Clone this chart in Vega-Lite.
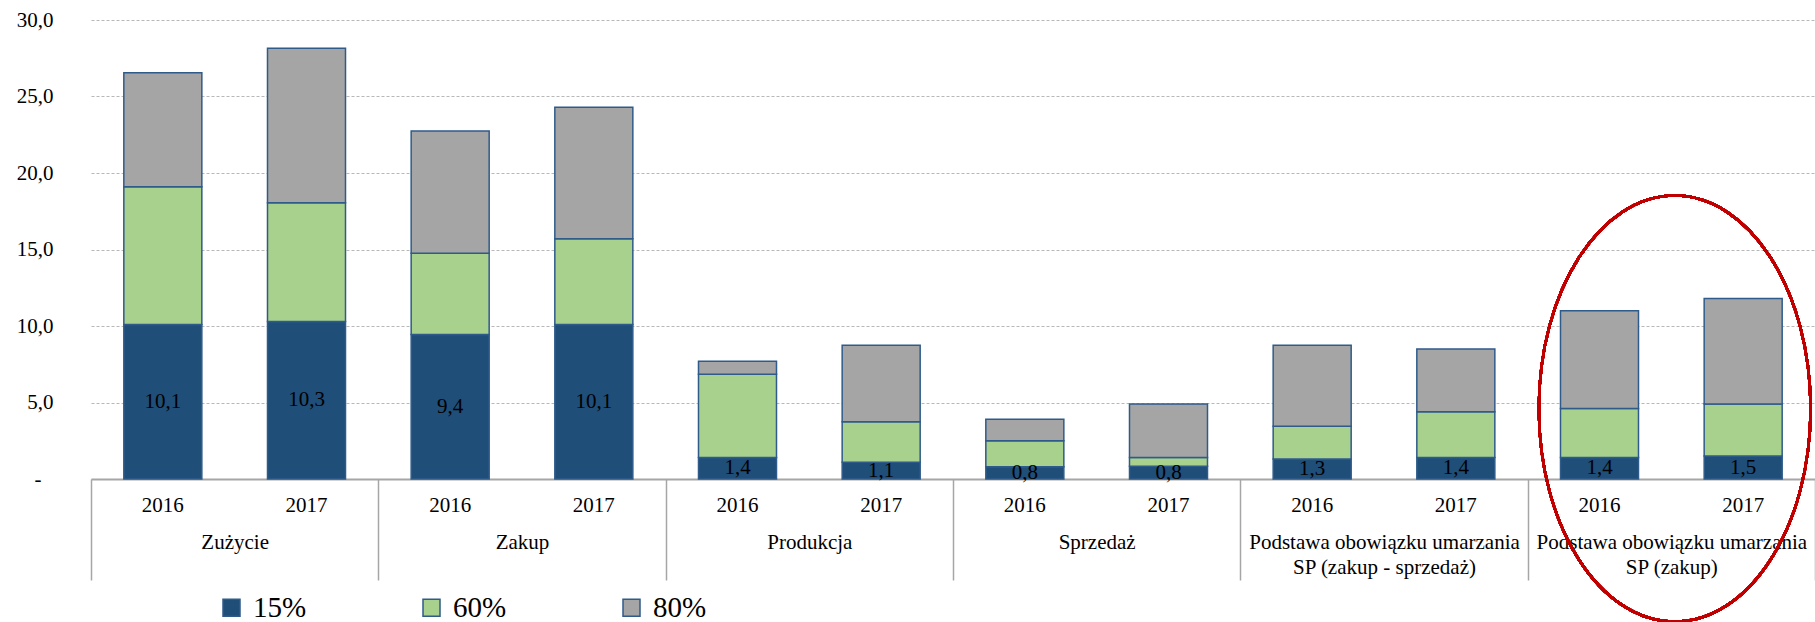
{
  "$schema": "https://vega.github.io/schema/vega-lite/v6.json",
  "autosize": {"type": "none"},
  "padding": {"left": 91, "top": 20, "right": 0, "bottom": 143},
  "width": 1724,
  "height": 459,
  "config": {
    "font": "Liberation Serif",
    "view": {"stroke": null},
    "legend": {"labelFont": "Liberation Serif"},
    "locale": {"number": {"decimal": ",", "thousands": "\u00a0", "grouping": [3], "currency": ["", " zł"]}}
  },
  "data": {"values": [
    {"kategoria": "Zużycie", "rok": "2016", "slupek": "Zużycie 2016", "stawka": "15%", "wartosc": 10.1},
    {"kategoria": "Zużycie", "rok": "2016", "slupek": "Zużycie 2016", "stawka": "60%", "wartosc": 9.0},
    {"kategoria": "Zużycie", "rok": "2016", "slupek": "Zużycie 2016", "stawka": "80%", "wartosc": 7.45},
    {"kategoria": "Zużycie", "rok": "2017", "slupek": "Zużycie 2017", "stawka": "15%", "wartosc": 10.3},
    {"kategoria": "Zużycie", "rok": "2017", "slupek": "Zużycie 2017", "stawka": "60%", "wartosc": 7.75},
    {"kategoria": "Zużycie", "rok": "2017", "slupek": "Zużycie 2017", "stawka": "80%", "wartosc": 10.1},
    {"kategoria": "Zakup", "rok": "2016", "slupek": "Zakup 2016", "stawka": "15%", "wartosc": 9.45},
    {"kategoria": "Zakup", "rok": "2016", "slupek": "Zakup 2016", "stawka": "60%", "wartosc": 5.3},
    {"kategoria": "Zakup", "rok": "2016", "slupek": "Zakup 2016", "stawka": "80%", "wartosc": 8.0},
    {"kategoria": "Zakup", "rok": "2017", "slupek": "Zakup 2017", "stawka": "15%", "wartosc": 10.1},
    {"kategoria": "Zakup", "rok": "2017", "slupek": "Zakup 2017", "stawka": "60%", "wartosc": 5.6},
    {"kategoria": "Zakup", "rok": "2017", "slupek": "Zakup 2017", "stawka": "80%", "wartosc": 8.6},
    {"kategoria": "Produkcja", "rok": "2016", "slupek": "Produkcja 2016", "stawka": "15%", "wartosc": 1.4},
    {"kategoria": "Produkcja", "rok": "2016", "slupek": "Produkcja 2016", "stawka": "60%", "wartosc": 5.45},
    {"kategoria": "Produkcja", "rok": "2016", "slupek": "Produkcja 2016", "stawka": "80%", "wartosc": 0.85},
    {"kategoria": "Produkcja", "rok": "2017", "slupek": "Produkcja 2017", "stawka": "15%", "wartosc": 1.1},
    {"kategoria": "Produkcja", "rok": "2017", "slupek": "Produkcja 2017", "stawka": "60%", "wartosc": 2.65},
    {"kategoria": "Produkcja", "rok": "2017", "slupek": "Produkcja 2017", "stawka": "80%", "wartosc": 5.0},
    {"kategoria": "Sprzedaż", "rok": "2016", "slupek": "Sprzedaż 2016", "stawka": "15%", "wartosc": 0.8},
    {"kategoria": "Sprzedaż", "rok": "2016", "slupek": "Sprzedaż 2016", "stawka": "60%", "wartosc": 1.7},
    {"kategoria": "Sprzedaż", "rok": "2016", "slupek": "Sprzedaż 2016", "stawka": "80%", "wartosc": 1.4},
    {"kategoria": "Sprzedaż", "rok": "2017", "slupek": "Sprzedaż 2017", "stawka": "15%", "wartosc": 0.84},
    {"kategoria": "Sprzedaż", "rok": "2017", "slupek": "Sprzedaż 2017", "stawka": "60%", "wartosc": 0.56},
    {"kategoria": "Sprzedaż", "rok": "2017", "slupek": "Sprzedaż 2017", "stawka": "80%", "wartosc": 3.5},
    {"kategoria": "Podstawa obowiązku umarzania SP (zakup - sprzedaż)", "rok": "2016", "slupek": "Podstawa obowiązku umarzania SP (zakup - sprzedaż) 2016", "stawka": "15%", "wartosc": 1.3},
    {"kategoria": "Podstawa obowiązku umarzania SP (zakup - sprzedaż)", "rok": "2016", "slupek": "Podstawa obowiązku umarzania SP (zakup - sprzedaż) 2016", "stawka": "60%", "wartosc": 2.15},
    {"kategoria": "Podstawa obowiązku umarzania SP (zakup - sprzedaż)", "rok": "2016", "slupek": "Podstawa obowiązku umarzania SP (zakup - sprzedaż) 2016", "stawka": "80%", "wartosc": 5.3},
    {"kategoria": "Podstawa obowiązku umarzania SP (zakup - sprzedaż)", "rok": "2017", "slupek": "Podstawa obowiązku umarzania SP (zakup - sprzedaż) 2017", "stawka": "15%", "wartosc": 1.4},
    {"kategoria": "Podstawa obowiązku umarzania SP (zakup - sprzedaż)", "rok": "2017", "slupek": "Podstawa obowiązku umarzania SP (zakup - sprzedaż) 2017", "stawka": "60%", "wartosc": 3.0},
    {"kategoria": "Podstawa obowiązku umarzania SP (zakup - sprzedaż)", "rok": "2017", "slupek": "Podstawa obowiązku umarzania SP (zakup - sprzedaż) 2017", "stawka": "80%", "wartosc": 4.1},
    {"kategoria": "Podstawa obowiązku umarzania SP (zakup)", "rok": "2016", "slupek": "Podstawa obowiązku umarzania SP (zakup) 2016", "stawka": "15%", "wartosc": 1.4},
    {"kategoria": "Podstawa obowiązku umarzania SP (zakup)", "rok": "2016", "slupek": "Podstawa obowiązku umarzania SP (zakup) 2016", "stawka": "60%", "wartosc": 3.2},
    {"kategoria": "Podstawa obowiązku umarzania SP (zakup)", "rok": "2016", "slupek": "Podstawa obowiązku umarzania SP (zakup) 2016", "stawka": "80%", "wartosc": 6.4},
    {"kategoria": "Podstawa obowiązku umarzania SP (zakup)", "rok": "2017", "slupek": "Podstawa obowiązku umarzania SP (zakup) 2017", "stawka": "15%", "wartosc": 1.5},
    {"kategoria": "Podstawa obowiązku umarzania SP (zakup)", "rok": "2017", "slupek": "Podstawa obowiązku umarzania SP (zakup) 2017", "stawka": "60%", "wartosc": 3.4},
    {"kategoria": "Podstawa obowiązku umarzania SP (zakup)", "rok": "2017", "slupek": "Podstawa obowiązku umarzania SP (zakup) 2017", "stawka": "80%", "wartosc": 6.9}
  ]},
  "layer": [
    {
      "encoding": {
        "x": {
          "field": "slupek", "type": "nominal", "sort": null,
          "scale": {"paddingInner": 0.457, "paddingOuter": 0.2285},
          "axis": {
            "orient": "bottom",
            "title": null, "ticks": false, "domain": false, "labelAngle": 0,
            "labelExpr": "slice(datum.label, -4)",
            "labelFontSize": 21, "labelColor": "#000000", "labelPadding": 15,
            "labelFont": "Liberation Serif"
          }
        }
      },
      "layer": [
        {
          "mark": {"type": "bar", "stroke": "#2F5B8A", "strokeWidth": 1.5},
          "encoding": {
            "y": {
              "field": "wartosc", "type": "quantitative", "stack": "zero",
              "scale": {"domain": [0, 30], "nice": false},
              "axis": {
                "title": null, "values": [0, 5, 10, 15, 20, 25, 30], "format": ".1f",
                "labelExpr": "datum.value == 0 ? '-' : datum.label",
                "labelPadding": {"condition": {"test": "datum.value === 0", "value": 50}, "value": 38},
                "ticks": false, "domain": false,
                "labelFontSize": 21, "labelColor": "#000000", "labelFont": "Liberation Serif",
                "grid": true, "gridColor": "#b8b8b8", "gridDash": [3, 2], "gridWidth": 1
              }
            },
            "color": {
              "field": "stawka", "type": "nominal",
              "scale": {"domain": ["15%", "60%", "80%"], "range": ["#1F4E79", "#A9D18E", "#A5A5A5"]},
              "legend": {
                "title": null, "orient": "none", "direction": "horizontal",
                "legendX": 126, "legendY": 573,
                "symbolType": "square", "symbolSize": 289, "symbolStrokeColor": "#2F5B8A",
                "symbolStrokeWidth": 1.5, "symbolOpacity": 1,
                "labelFontSize": 29, "labelColor": "#000000", "labelFont": "Liberation Serif",
                "labelOffset": 7, "columnPadding": 110,
                "encode": {"labels": {"update": {"font": {"value": "Liberation Serif"}, "fontSize": {"value": 29}}}}
              }
            },
            "order": {"field": "stawka", "sort": "ascending"}
          }
        },
        {
          "transform": [{"filter": "datum.stawka == '15%'"}],
          "mark": {"type": "text", "fontSize": 21, "color": "#000000", "baseline": "middle", "font": "Liberation Serif"},
          "encoding": {
            "y": {"field": "wartosc", "type": "quantitative", "stack": "zero", "bandPosition": 0.5},
            "text": {"field": "wartosc", "type": "quantitative", "format": ".1f"}
          }
        }
      ]
    },
    {
      "layer": [
        {
          "mark": {"type": "rule", "opacity": 0},
          "encoding": {
            "x": {
              "field": "kategoria", "type": "nominal",
              "scale": {"domain": ["Zużycie", "Zakup", "Produkcja", "Sprzedaż", "Podstawa obowiązku umarzania SP (zakup - sprzedaż)", "Podstawa obowiązku umarzania SP (zakup)"], "paddingInner": 0, "paddingOuter": 0},
              "axis": {
                "orient": "bottom",
                "title": null, "labelAngle": 0, "tickBand": "extent", "ticks": true, "tickSize": 101,
                "tickColor": "#a6a6a6", "tickWidth": 1.5, "domain": true, "domainColor": "#a6a6a6", "domainWidth": 2,
                "labelPadding": -49, "labelFontSize": 21, "labelColor": "#000000", "labelFont": "Liberation Serif",
                "labelLineHeight": 25, "labelLimit": 400,
                "labelExpr": "split(replace(datum.label, ' SP ', '|SP '), '|')"
              }
            }
          }
        },
        {
          "mark": {"type": "point", "shape": "M0.016,-1 A0.638,1 0 1,1 0.016,1 A0.638,1 0 1,1 0.016,-1 Z", "size": 181476, "filled": false, "stroke": "#C00000", "strokeWidth": 2.5, "opacity": 1},
          "encoding": {
            "x": {"datum": "Podstawa obowiązku umarzania SP (zakup)", "type": "nominal"},
            "y": {"datum": 4.6, "type": "quantitative"}
          }
        }
      ]
    }
  ],
  "resolve": {"scale": {"x": "independent"}}
}
